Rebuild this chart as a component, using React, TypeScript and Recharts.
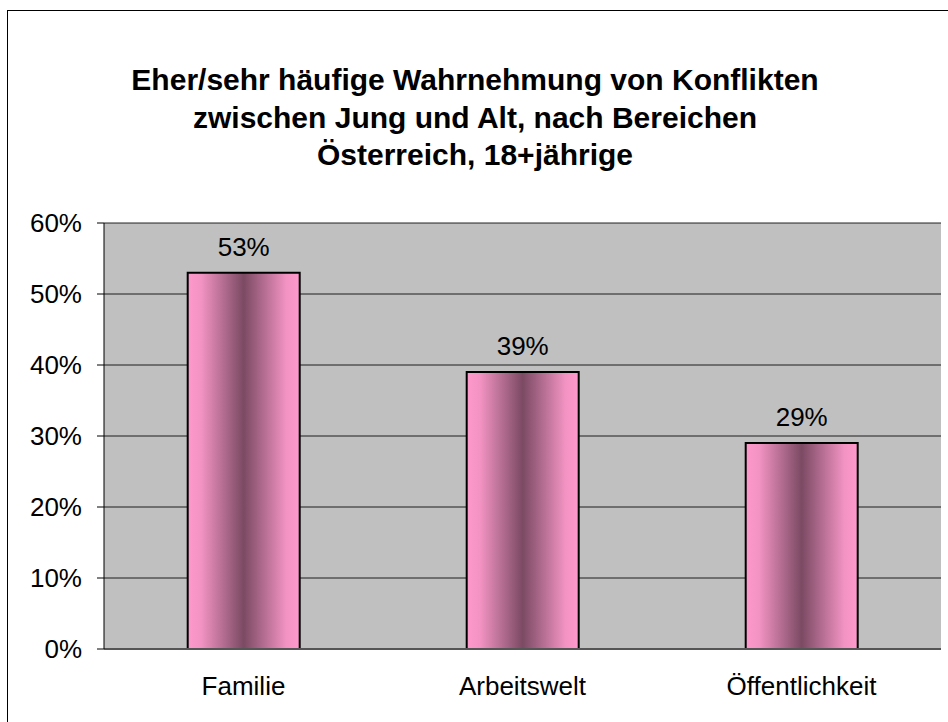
import { Bar, BarChart, CartesianGrid, LabelList, XAxis, YAxis } from "recharts";

const titleLines = [
  "Eher/sehr häufige Wahrnehmung von Konflikten",
  "zwischen Jung und Alt, nach Bereichen",
  "Österreich, 18+jährige",
];
const categories = ["Familie", "Arbeitswelt", "Öffentlichkeit"];
const values = [53, 39, 29];
const yTicks = [0, 10, 20, 30, 40, 50, 60];
const edgeTicks = [0, 1, 2, 3];

const data = categories.map((name, i) => ({ name, value: values[i] }));

const FONT = "'Liberation Sans', Arial, Helvetica, sans-serif";
const pct = (v: number) => `${v}%`;

export default function App() {
  return (
    <div style={{ position: "absolute", left: 0, top: 0, width: 948, height: 722, background: "#fff", overflow: "hidden" }}>
      <div style={{ position: "absolute", left: 7, top: 10, width: 960, height: 740, borderLeft: "1px solid #000", borderTop: "1px solid #000" }} />
      <div
        style={{
          position: "absolute",
          left: 0,
          top: 61,
          width: 950,
          textAlign: "center",
          fontFamily: FONT,
          fontWeight: "bold",
          fontSize: 30,
          lineHeight: "37.5px",
          color: "#000",
        }}
      >
        {titleLines.map((t) => (
          <div key={t}>{t}</div>
        ))}
      </div>
      <div style={{ position: "absolute", left: 0, top: 0 }}>
        <BarChart width={948} height={722} data={data} margin={{ top: 223, right: 7, bottom: 0, left: 0 }} barCategoryGap="30%">
          <defs>
            <linearGradient id="barFill" x1="0" y1="0" x2="1" y2="0">
              <stop offset="0%" stopColor="#FF99CC" />
              <stop offset="12%" stopColor="#F293C3" />
              <stop offset="50%" stopColor="#7B4A63" />
              <stop offset="88%" stopColor="#F293C3" />
              <stop offset="100%" stopColor="#FF99CC" />
            </linearGradient>
          </defs>
          <CartesianGrid vertical={false} fill="#C0C0C0" stroke="#000" strokeOpacity={0.85} />
          <XAxis
            xAxisId="edges"
            type="number"
            domain={[0, 3]}
            ticks={edgeTicks}
            height={0}
            axisLine={false}
            tickLine={{ stroke: "#000" }}
            tickSize={8}
            tickFormatter={() => ""}
          />
          <XAxis
            dataKey="name"
            height={73}
            axisLine={{ stroke: "#555", strokeWidth: 2 }}
            tickLine={false}
            tickSize={0}
            tickMargin={28}
            tick={{ fill: "#000", fontSize: 26, fontFamily: FONT }}
            interval={0}
          />
          <XAxis xAxisId="top" orientation="top" height={0} axisLine={{ stroke: "#808080", strokeWidth: 2 }} tick={false} tickLine={false} />
          <YAxis
            domain={[0, 60]}
            ticks={yTicks}
            width={104}
            axisLine={{ stroke: "#000" }}
            tickLine={{ stroke: "#000" }}
            tickSize={7}
            tickMargin={15}
            tickFormatter={pct}
            tick={{ fill: "#000", fontSize: 26, fontFamily: FONT }}
          />
          <YAxis yAxisId="right" orientation="right" width={0} axisLine={{ stroke: "#808080", strokeWidth: 2 }} tick={false} tickLine={false} />
          <Bar dataKey="value" fill="url(#barFill)" stroke="#000" strokeWidth={2} isAnimationActive={false}>
            <LabelList dataKey="value" position="top" offset={17} formatter={(v: number) => pct(v)} fill="#000" fontSize={26} fontFamily={FONT} />
          </Bar>
        </BarChart>
      </div>
    </div>
  );
}
